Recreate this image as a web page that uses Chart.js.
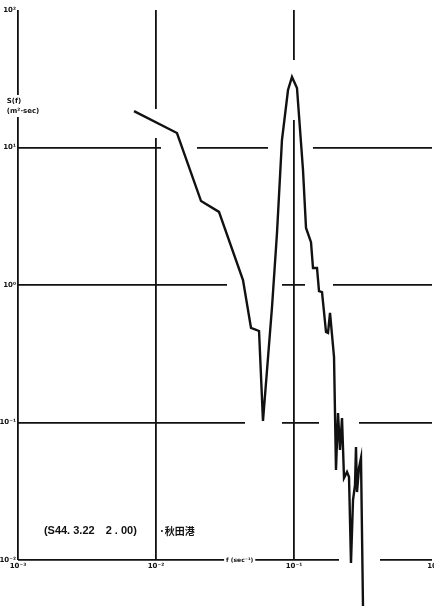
<!DOCTYPE html>
<html><head><meta charset="utf-8">
<script src="https://cdn.jsdelivr.net/npm/chart.js@4/dist/chart.umd.min.js"></script>
<style>html,body{margin:0;padding:0;background:#fff;overflow:hidden}#wrap{width:434px;height:606px}</style>
</head><body><div id="wrap"><canvas id="c" width="434" height="606"></canvas></div>
<script>
// frequency f (sec^-1)
const freq = [0.00693, 0.01419, 0.0212, 0.0286, 0.0427, 0.0488, 0.0558, 0.0596, 0.0693, 0.0753,
  0.0818, 0.0905, 0.0967, 0.1051, 0.1162, 0.1222, 0.1328, 0.1373, 0.1468, 0.1518,
  0.1596, 0.1706, 0.1764, 0.1824, 0.1950, 0.2015, 0.2084, 0.2154, 0.2228, 0.2303,
  0.2421, 0.2504, 0.2588, 0.2677, 0.2767, 0.2813, 0.2861, 0.2958, 0.3058, 0.3162];
// spectral density S(f) (m^2 sec)
const spectrum = [18.4, 12.75, 4.08, 3.40, 1.087, 0.487, 0.463, 0.1025, 0.692, 2.39,
  11.34, 26.2, 32.6, 27.1, 6.86, 2.60, 2.05, 1.33, 1.33, 0.904,
  0.889, 0.455, 0.448, 0.626, 0.2995, 0.0451, 0.1173, 0.0631, 0.1078, 0.0395,
  0.0437, 0.0401, 0.00951, 0.0273, 0.0351, 0.0664, 0.0312, 0.0467, 0.0552, 0.0046];
const xTicks = [0.001, 0.01, 0.1, 1];
const xTickLabels = ['10⁻³', '10⁻²', '10⁻¹', '10'];
const yTicks = [0.01, 0.1, 1, 10, 100];
const yTickLabels = ['10⁻²', '10⁻¹', '10⁰', '10¹', '10²'];

// broken-line look of the scanned grid (dash patterns, px)
const xGridDash = [[85, 22, 460], [99, 29, 430], [50, 60, 440], []];
const yGridDash = [[321, 41, 100], [227, 37, 37, 40, 100], [209, 55, 23, 28, 100], [143, 36, 71, 45, 140], []];

const notes = [
  {text: '(S44. 3.22　2 . 00)', f: 0.00154, s: 0.01625, font: 'bold 11px "Liberation Sans", sans-serif', bg: false},
  {text: '·秋田港', f: 0.0105, s: 0.01625, font: 'bold 10px "Noto Sans CJK JP", sans-serif', bg: false},
  {text: 'f (sec⁻¹)', f: 0.0322, s: 0.01, font: 'bold 6px "DejaVu Sans", sans-serif', bg: true},
  {text: 'S(f)', f: 0.00083, s: 21.8, font: 'bold 7px "DejaVu Sans", sans-serif', bg: true},
  {text: '(m²·sec)', f: 0.00083, s: 18.4, font: 'bold 7px "DejaVu Sans", sans-serif', bg: true}
];

const notesPlugin = {
  id: 'notes',
  afterDraw(chart) {
    const {ctx, scales} = chart;
    ctx.save();
    ctx.textBaseline = 'middle';
    ctx.textAlign = 'left';
    notes.forEach(n => {
      const x = scales.x.getPixelForValue(n.f);
      const y = scales.y.getPixelForValue(n.s);
      ctx.font = n.font;
      if (n.bg) {
        const w = ctx.measureText(n.text).width;
        ctx.fillStyle = '#fff';
        ctx.fillRect(x - 2, y - 5, w + 4, 10);
      }
      ctx.fillStyle = '#111';
      ctx.fillText(n.text, x, y);
    });
    ctx.restore();
  }
};

new Chart(document.getElementById('c'), {
  type: 'scatter',
  data: {
    datasets: [{
      data: freq.map((f, i) => ({x: f, y: spectrum[i]})),
      showLine: true,
      borderColor: '#111',
      borderWidth: 2.4,
      pointRadius: 0,
      tension: 0,
      clip: false
    }]
  },
  options: {
    responsive: false,
    animation: false,
    layout: {padding: {top: 10, right: 2, left: 0, bottom: 0}},
    plugins: {legend: {display: false}, tooltip: {enabled: false}},
    scales: {
      x: {
        type: 'logarithmic',
        min: 0.001, max: 1,
        afterBuildTicks: s => { s.ticks = xTicks.map(v => ({value: v})); },
        afterFit: s => { s.height = 46; s.paddingLeft = 0; s.paddingRight = 0; },
        ticks: {
          autoSkip: false, maxRotation: 0, padding: 2,
          color: '#111', font: {size: 7, weight: 'bold', family: '"DejaVu Sans", sans-serif'},
          callback: (v, i) => xTickLabels[i]
        },
        grid: {
          drawTicks: false,
          lineWidth: 1.8,
          color: c => (c.index === xTicks.length - 1 ? 'rgba(0,0,0,0)' : '#111')
        },
        border: {display: false, dash: c => xGridDash[c.index] || []}
      },
      y: {
        type: 'logarithmic',
        min: 0.01, max: 100,
        afterBuildTicks: s => { s.ticks = yTicks.map(v => ({value: v})); },
        afterFit: s => { s.width = 18; s.paddingTop = 0; s.paddingBottom = 0; },
        ticks: {
          autoSkip: false, padding: 2,
          color: '#111', font: {size: 7, weight: 'bold', family: '"DejaVu Sans", sans-serif'},
          callback: (v, i) => yTickLabels[i]
        },
        grid: {
          drawTicks: false,
          lineWidth: 1.8,
          color: c => (c.index === yTicks.length - 1 ? 'rgba(0,0,0,0)' : '#111')
        },
        border: {display: false, dash: c => yGridDash[c.index] || []}
      }
    }
  },
  plugins: [notesPlugin]
});
</script>
</body></html>
